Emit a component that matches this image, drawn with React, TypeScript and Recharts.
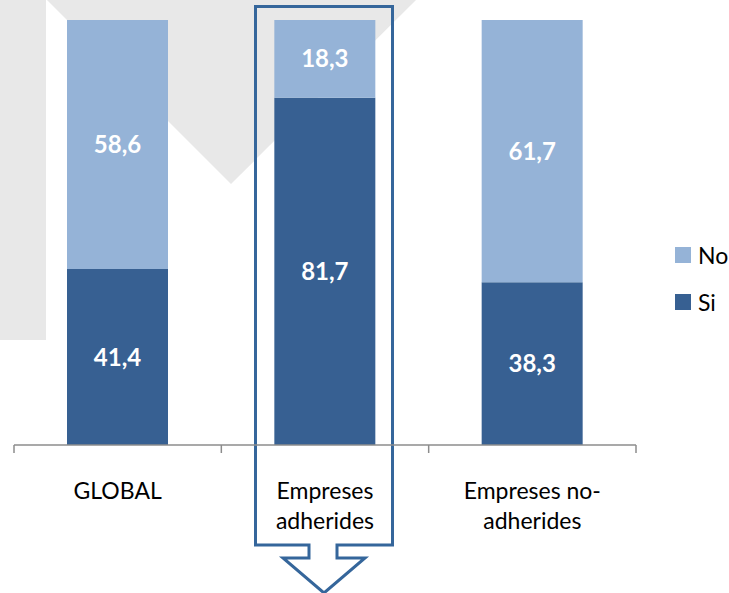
import { BarChart, Bar, XAxis, YAxis, LabelList, Legend, ReferenceArea } from 'recharts'

const categories = ['GLOBAL', 'Empreses\nadherides', 'Empreses no-\nadherides']
const siValues = [41.4, 81.7, 38.3]
const noValues = [58.6, 18.3, 61.7]
const highlighted = categories[1]

const SI_COLOR = '#376092'
const NO_COLOR = '#95b3d7'
const FRAME_COLOR = '#35669b'
const FONT = 'Lato, "Open Sans", sans-serif'

const data = categories.map((category, i) => ({ category, si: siValues[i], no: noValues[i] }))

const fmt = (v: unknown) => Number(v).toFixed(1).replace('.', ',')

// category label split on \n, plus Excel-style tick marks on band boundaries
function CategoryTick(props: any) {
  const { x, y, payload, index } = props
  const off = payload?.offset ?? 104
  const lines = String(payload.value).split('\n')
  return (
    <g>
      <line x1={x - off} y1={y} x2={x - off} y2={y + 8} stroke="#8c8c8c" strokeWidth={1.5} />
      {index === categories.length - 1 && (
        <line x1={x + off} y1={y} x2={x + off} y2={y + 8} stroke="#8c8c8c" strokeWidth={1.5} />
      )}
      <text x={x} y={y} textAnchor="middle" fill="#000" fontSize={23} fontFamily={FONT}>
        {lines.map((l, i) => (
          <tspan key={i} x={x} dy={i === 0 ? 54 : 30}>{l}</tspan>
        ))}
      </text>
    </g>
  )
}

// outline round the highlighted column with a down arrow under it
function HighlightFrame(props: any) {
  const { x, y, width, height } = props
  const cx = x + width / 2 - 1
  const top = y - 13.5
  const bottom = y + height + 100
  const pts = [
    [cx - 68.5, top],
    [cx + 68.5, top],
    [cx + 68.5, bottom],
    [cx + 13, bottom],
    [cx + 13, bottom + 13],
    [cx + 41, bottom + 13],
    [cx, bottom + 48],
    [cx - 41, bottom + 13],
    [cx - 15, bottom + 13],
    [cx - 15, bottom],
    [cx - 68.5, bottom],
  ]
  return (
    <polygon
      points={pts.map((p) => p.join(',')).join(' ')}
      fill="none"
      stroke={FRAME_COLOR}
      strokeWidth={3}
      strokeLinejoin="miter"
    />
  )
}

function LegendContent({ payload }: any) {
  const items = payload ?? []
  return (
    <div style={{ fontFamily: FONT }}>
      {items.map((it: any) => (
        <div key={it.value} style={{ display: 'flex', alignItems: 'center', height: 47 }}>
          <span style={{ width: 16, height: 16, background: it.color, display: 'inline-block', marginRight: 7 }} />
          <span style={{ fontSize: 23, color: '#000' }}>{it.value}</span>
        </div>
      ))}
    </div>
  )
}

export default function App() {
  return (
    <div style={{ position: 'fixed', left: 0, top: 0, width: 729, height: 593, background: '#fff', overflow: 'hidden' }}>
      <svg width={729} height={593} style={{ position: 'absolute', left: 0, top: 0 }}>
        <rect x={0} y={0} width={46} height={340} fill="#e8e8e8" />
        <polygon points="47,0 416,0 231,184" fill="#e8e8e8" />
      </svg>
      <div style={{ position: 'absolute', left: 0, top: 0 }}>
        <BarChart
          width={729}
          height={593}
          data={data}
          margin={{ top: 20, right: 93, left: 14, bottom: 88 }}
          barCategoryGap={53}
          style={{ fontFamily: FONT }}
        >
          <XAxis
            dataKey="category"
            height={60}
            interval={0}
            tickSize={0}
            tickMargin={0}
            tickLine={false}
            axisLine={{ stroke: '#8c8c8c', strokeWidth: 1.5 }}
            tick={<CategoryTick />}
          />
          <YAxis hide type="number" domain={[0, 100]} />
          <Legend
            layout="vertical"
            align="center"
            verticalAlign="middle"
            wrapperStyle={{ left: 675, top: 231, width: 60 }}
            content={<LegendContent />}
          />
          <Bar dataKey="si" name="Si" stackId="a" fill={SI_COLOR} isAnimationActive={false}>
            <LabelList dataKey="si" position="center" fill="#fff" fontSize={24} fontWeight="bold" formatter={fmt} />
          </Bar>
          <Bar dataKey="no" name="No" stackId="a" fill={NO_COLOR} isAnimationActive={false}>
            <LabelList dataKey="no" position="center" fill="#fff" fontSize={24} fontWeight="bold" formatter={fmt} />
          </Bar>
          <ReferenceArea
            x1={highlighted}
            x2={highlighted}
            y1={0}
            y2={100}
            ifOverflow="visible"
            shape={HighlightFrame}
          />
        </BarChart>
      </div>
    </div>
  )
}
